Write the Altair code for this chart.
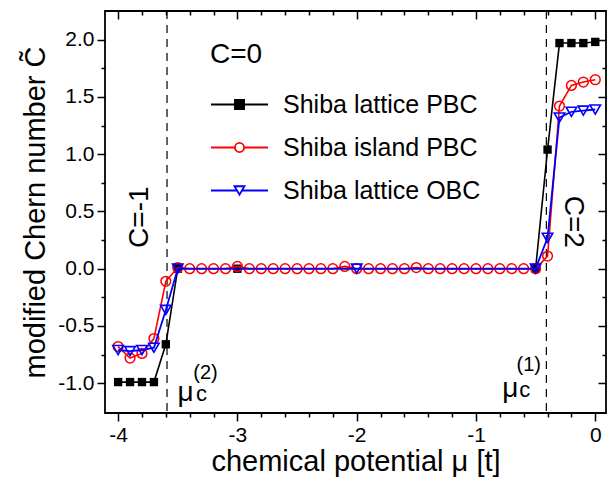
import altair as alt
import pandas as pd

FONT = "Liberation Sans"

# ---------------- data ----------------
series_names = ["Shiba lattice PBC", "Shiba island PBC", "Shiba lattice OBC"]

mu_black = [-4.0, -3.9, -3.8, -3.7, -3.6, -3.5, -3.0, -0.5, -0.4, -0.3, -0.2, -0.1, 0.0]
c_black = [-0.99, -0.99, -0.99, -0.99, -0.66, 0.0, 0.0, 0.0, 1.04, 1.97, 1.97, 1.97, 1.98]

mu_red = [-4.0, -3.9, -3.8, -3.7, -3.6, -3.5, -3.4, -3.3, -3.2, -3.1,
          -3.0, -2.9, -2.8, -2.7, -2.6, -2.5, -2.4, -2.3, -2.2, -2.1,
          -2.0, -1.9, -1.8, -1.7, -1.6, -1.5, -1.4, -1.3, -1.2, -1.1,
          -1.0, -0.9, -0.8, -0.7, -0.6, -0.5, -0.4, -0.3, -0.2, -0.1, 0.0]
c_red = [-0.68, -0.78, -0.74, -0.61, -0.11, 0.01, 0.0, 0.0, 0.0, 0.0,
         0.02, 0.0, 0.0, 0.0, 0.0, 0.0, 0.0, 0.0, 0.0, 0.02,
         0.0, 0.0, 0.0, 0.0, 0.0, 0.01, 0.0, 0.0, 0.0, 0.0,
         0.0, 0.0, 0.0, 0.0, 0.0, 0.0, 0.11, 1.42, 1.60, 1.63, 1.65]

mu_blue = [-4.0, -3.9, -3.8, -3.7, -3.6, -3.5, -2.0, -0.5, -0.4, -0.3, -0.2, -0.1, 0.0]
c_blue = [-0.71, -0.72, -0.71, -0.69, -0.36, 0.0, 0.0, 0.0, 0.27, 1.32, 1.37, 1.38, 1.39]

mu_critical = [-3.59, -0.41]

region_text = ["C=-1", "C=2"]
region_x = [-3.82, -0.19]
region_y = [0.45, 0.41]
region_angle = [270, 90]

mu_label_x = [-3.435, -0.713]
mu_label_y = [-1.157, -1.122]
sub_x = [-3.301, -0.591]
sup_text = ["(2)", "(1)"]
sup_x = [-3.268, -0.558]
sup_y = [-0.915, -0.84]

x_major = [-4, -3, -2, -1, 0]
x_minor = [-3.8, -3.6, -3.4, -3.2, -2.8, -2.6, -2.4, -2.2, -1.8, -1.6, -1.4, -1.2,
           -0.8, -0.6, -0.4, -0.2]
y_major = [-1.0, -0.5, 0.0, 0.5, 1.0, 1.5, 2.0]
y_minor = [-0.75, -0.25, 0.25, 0.75, 1.25, 1.75]

# ---------------- tables ----------------
df_black = pd.DataFrame({"mu": mu_black, "c": c_black})
df_red = pd.DataFrame({"mu": mu_red, "c": c_red})
df_blue = pd.DataFrame({"mu": mu_blue, "c": c_blue})
df_crit = pd.DataFrame({"mu": mu_critical})
df_region = pd.DataFrame({"t": region_text, "mu": region_x, "c": region_y, "a": region_angle})
df_mu = pd.DataFrame({"mu": mu_label_x, "c": mu_label_y, "t": ["\u03bc", "\u03bc"]})
df_sub = pd.DataFrame({"mu": sub_x, "c": mu_label_y, "t": ["c", "c"]})
df_sup = pd.DataFrame({"mu": sup_x, "c": sup_y, "t": sup_text})
df_leg = pd.DataFrame({"series": series_names, "mu": [None] * 3, "c": [None] * 3})

W, H = 501, 402
xs = alt.Scale(domain=[-4.11, 0.09], nice=False, zero=False)
ys = alt.Scale(domain=[-1.26, 2.25], nice=False, zero=False)

neg_x = "(datum.value < 0 ? '-' : '') + format(abs(datum.value), 'd')"
neg_y = "(datum.value < 0 ? '-' : '') + format(abs(datum.value), '.1f')"

common = dict(grid=False, domain=False, tickColor="black", tickWidth=1.5)

ax_bottom = alt.Axis(orient="bottom", values=x_major, labelExpr=neg_x, tickSize=8,
                     labelFont=FONT, labelFontSize=21, labelColor="black", labelPadding=3,
                     title="chemical potential \u03bc [t]", titleFont=FONT, titleFontSize=29,
                     titleFontWeight="normal", titleColor="black", titlePadding=2, **common)
ax_bottom_minor = alt.Axis(orient="bottom", values=x_minor, tickSize=4, labels=False, title=None, **common)
ax_top = alt.Axis(orient="bottom", offset=-H, values=x_major, tickSize=8, labels=False, title=None, **common)
ax_top_minor = alt.Axis(orient="bottom", offset=-H, values=x_minor, tickSize=4, labels=False, title=None, **common)

ax_left = alt.Axis(orient="left", values=y_major, labelExpr=neg_y, tickSize=8,
                   labelFont=FONT, labelFontSize=21, labelColor="black", labelPadding=3,
                   title="modified Chern number C\u0303", titleFont=FONT, titleFontSize=29,
                   titleFontWeight="normal", titleColor="black", titlePadding=7, **common)
ax_left_minor = alt.Axis(orient="left", values=y_minor, tickSize=4, labels=False, title=None, **common)
ax_right = alt.Axis(orient="left", offset=-W, values=y_major, tickSize=8, labels=False, title=None, **common)
ax_right_minor = alt.Axis(orient="left", offset=-W, values=y_minor, tickSize=4, labels=False, title=None, **common)


def X(axis=None):
    return alt.X("mu:Q", scale=xs, axis=axis)


def Y(axis=None):
    return alt.Y("c:Q", scale=ys, axis=axis)


rules = alt.Chart(df_crit).mark_rule(color="black", strokeWidth=1.2, strokeDash=[8, 6]).encode(x=X())

black_line = alt.Chart(df_black).mark_line(color="black", strokeWidth=1.6).encode(
    x=X(ax_bottom), y=Y(ax_left))
black_pts = alt.Chart(df_black).mark_point(shape="square", filled=True, color="black",
                                           size=70, opacity=1).encode(
    x=X(ax_bottom_minor), y=Y(ax_left_minor))

red_line = alt.Chart(df_red).mark_line(color="#ff0000", strokeWidth=1.6).encode(
    x=X(ax_top), y=Y(ax_right))
red_pts = alt.Chart(df_red).mark_point(shape="circle", filled=False, color="#ff0000",
                                       size=95, strokeWidth=1.5, opacity=1).encode(
    x=X(ax_top_minor), y=Y(ax_right_minor))

blue_line = alt.Chart(df_blue).mark_line(color="#0000ff", strokeWidth=1.8).encode(x=X(), y=Y())
blue_pts = alt.Chart(df_blue).mark_point(shape="triangle-down", filled=False, color="#0000ff",
                                         size=110, strokeWidth=1.6, opacity=1).encode(x=X(), y=Y())

region_lbl = alt.Chart(df_region).mark_text(font=FONT, fontSize=28, color="black",
                                            align="center", baseline="middle").encode(
    x=X(), y=Y(), text="t:N", angle=alt.Angle("a:Q", scale=None))
mu_lbl = alt.Chart(df_mu).mark_text(font=FONT, fontSize=28, color="black",
                                    align="center", baseline="alphabetic").encode(
    x=X(), y=Y(), text="t:N")
sub_lbl = alt.Chart(df_sub).mark_text(font=FONT, fontSize=22, color="black",
                                      align="center", baseline="alphabetic").encode(
    x=X(), y=Y(), text="t:N")
sup_lbl = alt.Chart(df_sup).mark_text(font=FONT, fontSize=20, color="black",
                                      align="center", baseline="middle").encode(
    x=X(), y=Y(), text="t:N")

sym_paths = [
    "M-1,0H1M-0.16,-0.16H0.16V0.16H-0.16Z",
    "M-1,0H-0.16M0.16,0H1M-0.16,0A0.16,0.16 0 1,0 0.16,0A0.16,0.16 0 1,0 -0.16,0Z",
    "M-1,0H-0.09M0.09,0H1M-0.175,-0.15H0.175L0,0.15Z",
]
leg = alt.Legend(title="C=0", orient="none", legendX=105, legendY=30,
                 titleFont=FONT, titleFontSize=28, titleFontWeight="normal", titleColor="black",
                 titlePadding=6, labelFont=FONT, labelFontSize=25, labelColor="black",
                 labelOffset=14, labelLimit=400, symbolSize=3249, symbolStrokeWidth=1.8,
                 rowPadding=0)
legend_layer = alt.Chart(df_leg).mark_point(filled=True, opacity=1, strokeWidth=1.8).encode(
    x=X(), y=Y(),
    shape=alt.Shape("series:N", scale=alt.Scale(domain=series_names, range=sym_paths), legend=leg),
    stroke=alt.Stroke("series:N", scale=alt.Scale(domain=series_names,
                                                  range=["black", "#ff0000", "#0000ff"]), legend=leg),
    fill=alt.Fill("series:N", scale=alt.Scale(domain=series_names,
                                              range=["black", "white", "white"]), legend=leg),
)

chart = alt.layer(
    rules, black_line, black_pts, red_line, red_pts, blue_line, blue_pts,
    region_lbl, mu_lbl, sub_lbl, sup_lbl, legend_layer
).resolve_axis(x="independent", y="independent").properties(
    width=W, height=H,
    autosize=alt.AutoSizeParams(type="none"),
    padding={"left": 105, "top": 11, "right": 6, "bottom": 72},
    background="white",
).configure_view(stroke="black", strokeWidth=1.8)

chart.save("out.html", embed_options={"renderer": "svg", "actions": False})
